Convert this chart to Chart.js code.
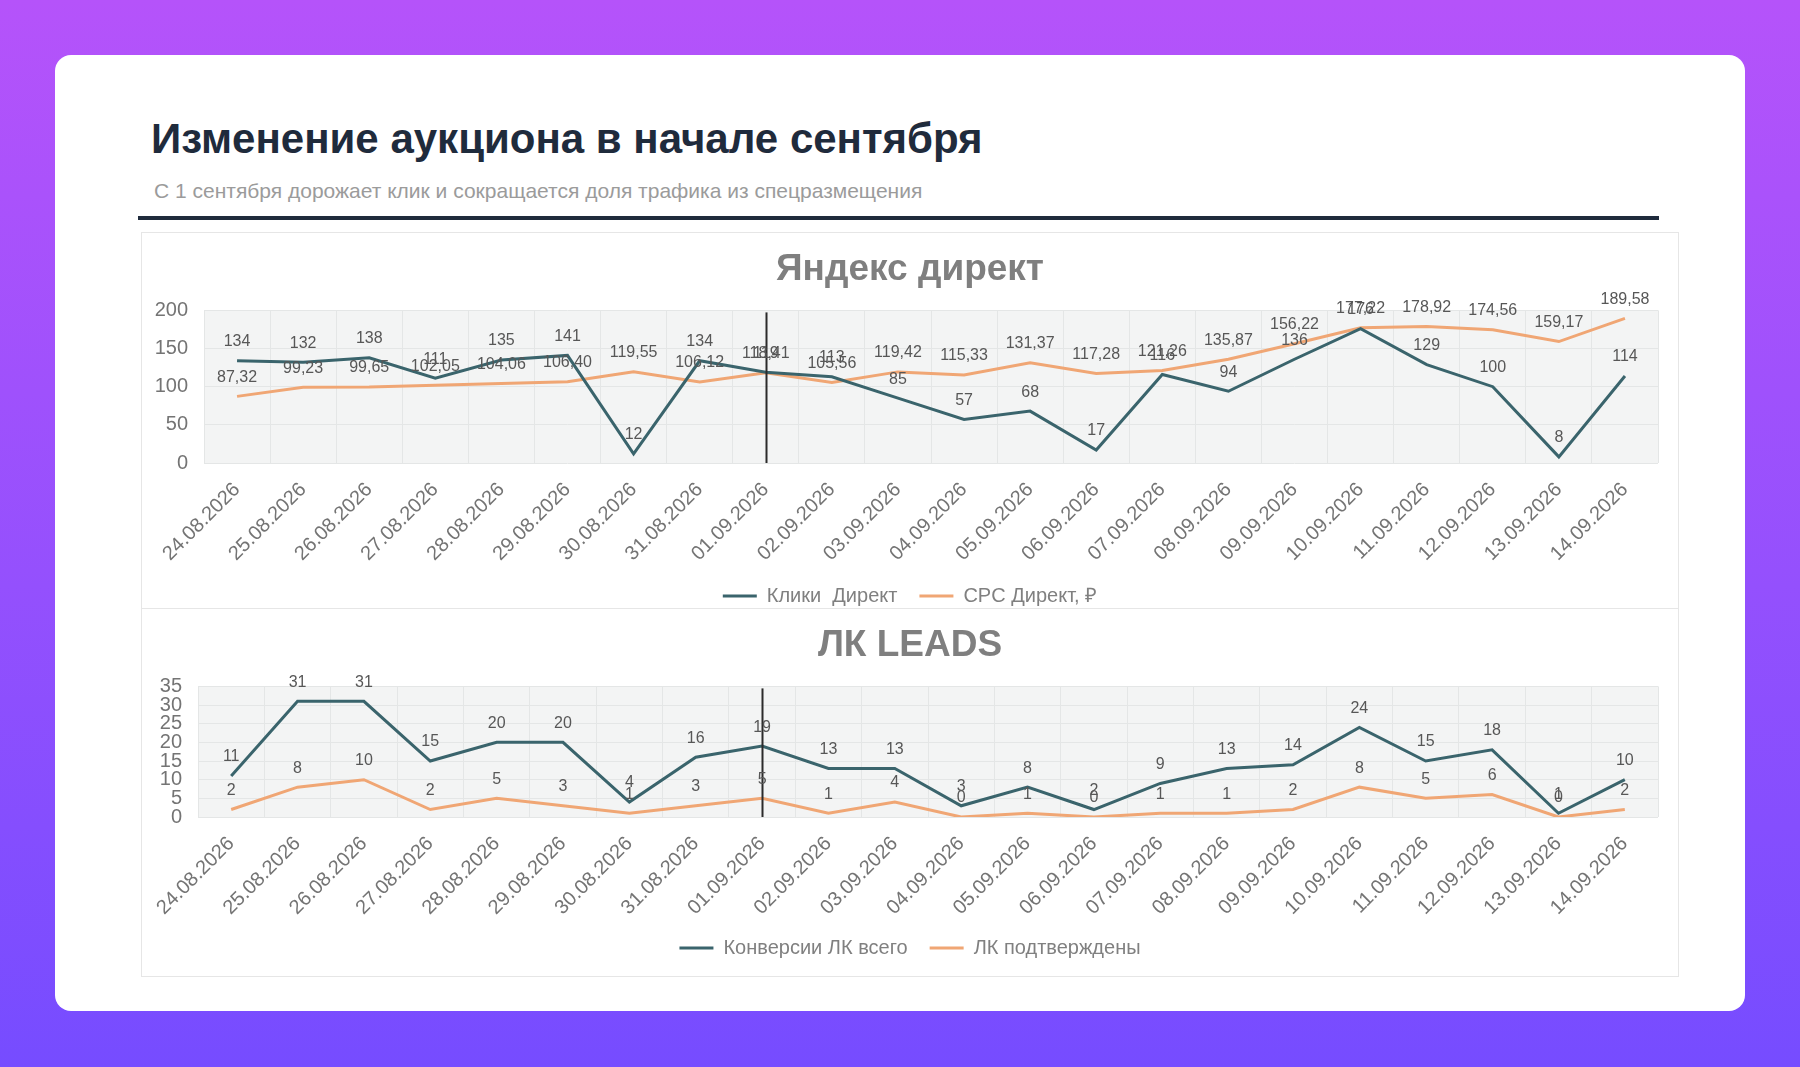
<!DOCTYPE html>
<html lang="ru">
<head>
<meta charset="utf-8">
<title>Изменение аукциона в начале сентября</title>
<script src="https://cdn.jsdelivr.net/npm/chart.js@4.4.1/dist/chart.umd.min.js"></script>
<style>
    html, body { margin: 0; padding: 0; }
    body {
        width: 1800px; height: 1067px; overflow: hidden; position: relative;
        background: linear-gradient(180deg, #b553fa 0%, #9450fd 55%, #764cff 100%);
        font-family: "Liberation Sans", Arial, sans-serif;
    }
    .card {
        position: absolute; left: 55px; top: 55px; width: 1690px; height: 956px;
        background: #ffffff; border-radius: 16px;
    }
    .title {
        position: absolute; left: 151px; top: 115px; margin: 0;
        font-size: 42px; font-weight: bold; color: #1f2b3c; white-space: nowrap;
    }
    .subtitle {
        position: absolute; left: 154px; top: 179px; margin: 0;
        font-size: 21px; color: #9b9b9b; white-space: nowrap;
    }
    .rule {
        position: absolute; left: 138px; top: 216px; width: 1521px; height: 4px; background: #1f2b3c;
    }
    .box {
        position: absolute; left: 141px; width: 1538px; box-sizing: border-box;
        border: 1px solid #e6e6e6;
    }
    #box1 { top: 232px; height: 377px; }
    #box2 { top: 608px; height: 369px; }
</style>
</head>
<body>
<div class="card"></div>
<h1 class="title">Изменение аукциона в начале сентября</h1>
<p class="subtitle">С 1 сентября дорожает клик и сокращается доля трафика из спецразмещения</p>
<div class="rule"></div>
<div class="box" id="box1"><canvas id="directChart"></canvas></div>
<div class="box" id="box2"><canvas id="leadsChart"></canvas></div>

<script>
    // даты (общие для обоих графиков)
    var dates = ['24.08.2026', '25.08.2026', '26.08.2026', '27.08.2026', '28.08.2026', '29.08.2026',
        '30.08.2026', '31.08.2026', '01.09.2026', '02.09.2026', '03.09.2026', '04.09.2026',
        '05.09.2026', '06.09.2026', '07.09.2026', '08.09.2026', '09.09.2026', '10.09.2026',
        '11.09.2026', '12.09.2026', '13.09.2026', '14.09.2026'];
    var markerDate = '01.09.2026';

    // Яндекс директ
    var clicksDirect = [134, 132, 138, 111, 135, 141, 12, 134, 119, 113, 85, 57, 68, 17, 116, 94, 136, 176, 129, 100, 8, 114];
    var cpcDirect = [87.32, 99.23, 99.65, 102.05, 104.06, 106.40, 119.55, 106.12, 118.41, 105.56, 119.42, 115.33,
        131.37, 117.28, 121.26, 135.87, 156.22, 177.22, 178.92, 174.56, 159.17, 189.58];
    var directTicks = [0, 50, 100, 150, 200];

    // ЛК LEADS
    var leadsTotal = [11, 31, 31, 15, 20, 20, 4, 16, 19, 13, 13, 3, 8, 2, 9, 13, 14, 24, 15, 18, 1, 10];
    var leadsConfirmed = [2, 8, 10, 2, 5, 3, 1, 3, 5, 1, 4, 0, 1, 0, 1, 1, 2, 8, 5, 6, 0, 2];
    var leadsTicks = [0, 5, 10, 15, 20, 25, 30, 35];

    var tealColor = '#3a646c';
    var orangeColor = '#f0a674';
    var textGray = '#747474';
    var fontFamily = '"Liberation Sans", Arial, sans-serif';

    // фон области построения + вертикальная линия на 01.09
    var plotDecor = {
        id: 'plotDecor',
        beforeDraw: function (chart) {
            var a = chart.chartArea;
            var ctx = chart.ctx;
            ctx.save();
            ctx.fillStyle = '#f3f4f4';
            ctx.fillRect(a.left, a.top, a.right - a.left, a.bottom - a.top);
            ctx.restore();
        },
        afterDatasetsDraw: function (chart) {
            var a = chart.chartArea;
            var idx = chart.data.labels.indexOf(markerDate);
            if (idx < 0) return;
            var x = Math.round(chart.scales.x.getPixelForValue(idx)) + 0.5;
            var ctx = chart.ctx;
            ctx.save();
            ctx.strokeStyle = '#2b2b2b';
            ctx.lineWidth = 2;
            ctx.beginPath();
            ctx.moveTo(x, a.top + 2);
            ctx.lineTo(x, a.bottom);
            ctx.stroke();
            ctx.restore();
        }
    };

    // подписи значений над точками
    var valueLabels = {
        id: 'valueLabels',
        afterDatasetsDraw: function (chart) {
            var ctx = chart.ctx;
            ctx.save();
            ctx.font = '16px ' + fontFamily;
            ctx.fillStyle = '#575757';
            ctx.textAlign = 'center';
            ctx.textBaseline = 'middle';
            chart.data.datasets.forEach(function (ds, i) {
                var meta = chart.getDatasetMeta(i);
                meta.data.forEach(function (pt, j) {
                    var v = ds.data[j];
                    var txt = ds.decimals ? v.toFixed(ds.decimals).replace('.', ',') : String(v);
                    ctx.fillText(txt, pt.x, pt.y - 19);
                });
            });
            ctx.restore();
        }
    };

    function buildChart(canvasId, title, series, ticks, lay) {
        var ctx = document.getElementById(canvasId).getContext('2d');
        return new Chart(ctx, {
            type: 'line',
            data: {
                labels: dates,
                datasets: series.map(function (s) {
                    return {
                        label: s.label,
                        data: s.data,
                        decimals: s.decimals || 0,
                        borderColor: s.color,
                        backgroundColor: s.color,
                        borderWidth: 3,
                        pointRadius: 0,
                        tension: 0
                    };
                })
            },
            options: {
                responsive: true,
                maintainAspectRatio: false,
                animation: false,
                layout: { padding: { top: 0, right: 0, bottom: lay.bottomPad, left: 0 } },
                plugins: {
                    title: {
                        display: true,
                        text: title,
                        color: '#7f7f7f',
                        font: { family: fontFamily, size: 37, weight: 'bold' },
                        padding: { top: 15, bottom: 18 }
                    },
                    legend: {
                        position: 'bottom',
                        labels: {
                            usePointStyle: true,
                            pointStyle: 'line',
                            pointStyleWidth: 34,
                            padding: 22,
                            color: '#808080',
                            font: { family: fontFamily, size: 20 }
                        }
                    },
                    tooltip: { enabled: false }
                },
                scales: {
                    x: {
                        offset: true,
                        grid: { offset: true, color: '#e4e6e6', drawTicks: false },
                        border: { display: false },
                        ticks: {
                            minRotation: 45, maxRotation: 45, autoSkip: false, padding: 15,
                            color: textGray, font: { family: fontFamily, size: 20 }
                        },
                        afterFit: function (scale) { scale.height = lay.xHeight; }
                    },
                    y: {
                        min: ticks[0],
                        max: ticks[ticks.length - 1],
                        afterBuildTicks: function (scale) {
                            scale.ticks = ticks.map(function (t) { return { value: t }; });
                        },
                        grid: { color: '#e4e6e6', drawTicks: false },
                        border: { display: false },
                        ticks: {
                            autoSkip: false, padding: 16,
                            color: textGray, font: { family: fontFamily, size: 20 }
                        },
                        afterFit: function (scale) { scale.width = lay.yWidth; }
                    },
                    // пустая ось справа — только отступ
                    yRight: {
                        type: 'linear',
                        position: 'right',
                        grid: { display: false },
                        border: { display: false },
                        ticks: { display: false },
                        afterFit: function (scale) { scale.width = 20; }
                    }
                }
            },
            plugins: [plotDecor, valueLabels]
        });
    }

    buildChart('directChart', 'Яндекс директ', [
        { label: 'Клики  Директ', data: clicksDirect, color: tealColor },
        { label: 'CPC Директ, \u20bd', data: cpcDirect, color: orangeColor, decimals: 2 }
    ], directTicks, { yWidth: 62, xHeight: 101, bottomPad: -8 });

    buildChart('leadsChart', 'ЛК LEADS', [
        { label: 'Конверсии ЛК всего', data: leadsTotal, color: tealColor },
        { label: 'ЛК подтверждены', data: leadsConfirmed, color: orangeColor }
    ], leadsTicks, { yWidth: 56, xHeight: 99, bottomPad: 8 });
</script>
</body>
</html>
